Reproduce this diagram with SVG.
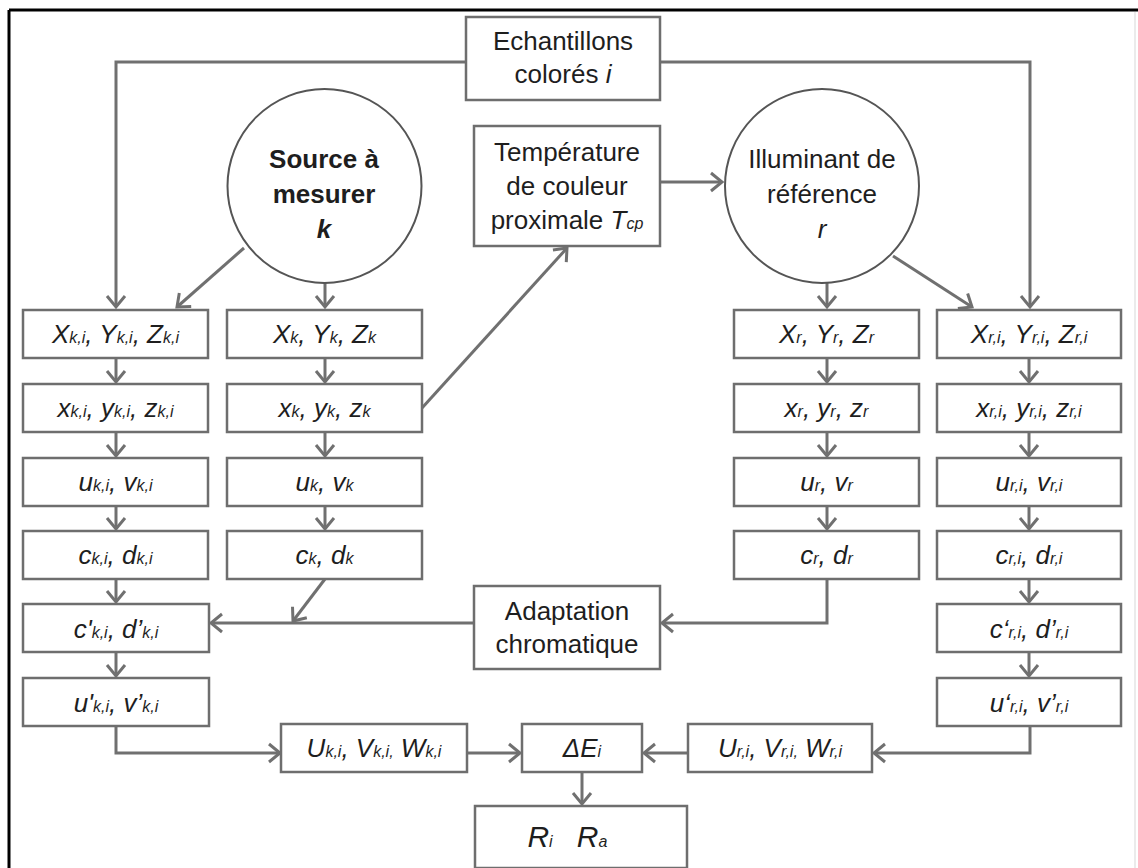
<svg xmlns="http://www.w3.org/2000/svg" width="1138" height="868" viewBox="0 0 1138 868">
<style>
.bx{fill:#fff;stroke:#6e6e6e;stroke-width:2.5}
.cr{fill:#fff;stroke:#555;stroke-width:2}
.ln{fill:none;stroke:#707070;stroke-width:3}
.t{font-family:"Liberation Sans",Arial,sans-serif;font-size:26px;fill:#1e1e1e;text-anchor:middle}
.i{font-style:italic}
.b{font-weight:bold}
.s{font-size:16px}
.big{font-size:30px}
</style>
<defs>
<marker id="ah" markerUnits="userSpaceOnUse" viewBox="-14 -12 16 24" refX="0" refY="0" markerWidth="16" markerHeight="24" orient="auto" overflow="visible">
<path d="M-11,-9 L0,0 L-11,9" fill="none" stroke="#707070" stroke-width="3"/>
</marker>
</defs>
<rect x="0" y="0" width="1138" height="868" fill="#fff"/>
<g id="frame">
<line x1="9" y1="10" x2="1138" y2="10" stroke="#000" stroke-width="3"/>
<line x1="9" y1="10" x2="9" y2="868" stroke="#000" stroke-width="3"/>
<line x1="1135" y1="12" x2="1135" y2="868" stroke="#e4e4e4" stroke-width="1.5"/>
</g>
<g id="connectors">
<polyline class="ln" points="466,62 116,62 116,307" marker-end="url(#ah)"/>
<polyline class="ln" points="660,62 1030,62 1030,307" marker-end="url(#ah)"/>
<line class="ln" x1="244" y1="248" x2="177" y2="307" marker-end="url(#ah)"/>
<line class="ln" x1="325" y1="283" x2="325" y2="307" marker-end="url(#ah)"/>
<line class="ln" x1="422" y1="408" x2="567" y2="248" marker-end="url(#ah)"/>
<line class="ln" x1="660" y1="182" x2="722" y2="182" marker-end="url(#ah)"/>
<line class="ln" x1="827" y1="283" x2="827" y2="307" marker-end="url(#ah)"/>
<line class="ln" x1="893" y1="256" x2="972" y2="307" marker-end="url(#ah)"/>
<line class="ln" x1="116" y1="358" x2="116" y2="382" marker-end="url(#ah)"/>
<line class="ln" x1="116" y1="432" x2="116" y2="456" marker-end="url(#ah)"/>
<line class="ln" x1="116" y1="506" x2="116" y2="529" marker-end="url(#ah)"/>
<line class="ln" x1="116" y1="579" x2="116" y2="602" marker-end="url(#ah)"/>
<line class="ln" x1="116" y1="652" x2="116" y2="676" marker-end="url(#ah)"/>
<line class="ln" x1="325" y1="358" x2="325" y2="382" marker-end="url(#ah)"/>
<line class="ln" x1="325" y1="432" x2="325" y2="456" marker-end="url(#ah)"/>
<line class="ln" x1="325" y1="506" x2="325" y2="529" marker-end="url(#ah)"/>
<line class="ln" x1="827" y1="358" x2="827" y2="382" marker-end="url(#ah)"/>
<line class="ln" x1="827" y1="432" x2="827" y2="456" marker-end="url(#ah)"/>
<line class="ln" x1="827" y1="506" x2="827" y2="529" marker-end="url(#ah)"/>
<line class="ln" x1="1029" y1="358" x2="1029" y2="382" marker-end="url(#ah)"/>
<line class="ln" x1="1029" y1="432" x2="1029" y2="456" marker-end="url(#ah)"/>
<line class="ln" x1="1029" y1="506" x2="1029" y2="529" marker-end="url(#ah)"/>
<line class="ln" x1="1029" y1="579" x2="1029" y2="602" marker-end="url(#ah)"/>
<line class="ln" x1="1029" y1="652" x2="1029" y2="676" marker-end="url(#ah)"/>
<line class="ln" x1="325" y1="579" x2="293" y2="621" marker-end="url(#ah)"/>
<line class="ln" x1="474" y1="623" x2="211" y2="623" marker-end="url(#ah)"/>
<polyline class="ln" points="827,579 827,623 662,623" marker-end="url(#ah)"/>
<polyline class="ln" points="116,726 116,753 280,753" marker-end="url(#ah)"/>
<line class="ln" x1="467" y1="753" x2="520" y2="753" marker-end="url(#ah)"/>
<line class="ln" x1="688" y1="753" x2="644" y2="753" marker-end="url(#ah)"/>
<polyline class="ln" points="1030,726 1030,753 874,753" marker-end="url(#ah)"/>
<line class="ln" x1="582" y1="772" x2="582" y2="804" marker-end="url(#ah)"/>
</g>
<g id="echantillons">
<rect class="bx" x="466" y="17" width="194" height="83"/>
<text class="t" x="563" y="50">Echantillons</text>
<text class="t" x="563" y="83">colorés <tspan class="i">i</tspan></text>
</g>
<g id="source">
<circle class="cr" cx="324.5" cy="186" r="97"/>
<text class="t b" x="324" y="168" font-size="25">Source à</text>
<text class="t b" x="324" y="203" font-size="25">mesurer</text>
<text class="t b i" x="324" y="238" font-size="25">k</text>
</g>
<g id="temperature">
<rect class="bx" x="474" y="126" width="186" height="120"/>
<text class="t" x="567" y="161">Température</text>
<text class="t" x="567" y="195">de couleur</text>
<text class="t" x="567" y="229">proximale <tspan class="i">T</tspan><tspan class="i s">cp</tspan></text>
</g>
<g id="illuminant">
<circle class="cr" cx="822" cy="186" r="97"/>
<text class="t" x="822" y="168">Illuminant de</text>
<text class="t" x="822" y="203">référence</text>
<text class="t i" x="822" y="238">r</text>
</g>
<g id="Xki"><rect class="bx" x="23" y="310" width="185" height="48"/>
<text class="t i" x="115.5" y="343">X<tspan class="s">k,i</tspan>, Y<tspan class="s">k,i</tspan>, Z<tspan class="s">k,i</tspan></text></g>
<g id="xki"><rect class="bx" x="23" y="384" width="185" height="48"/>
<text class="t i" x="115.5" y="417">x<tspan class="s">k,i</tspan>, y<tspan class="s">k,i</tspan>, z<tspan class="s">k,i</tspan></text></g>
<g id="uki"><rect class="bx" x="23" y="458" width="185" height="48"/>
<text class="t i" x="115.5" y="491">u<tspan class="s">k,i</tspan>, v<tspan class="s">k,i</tspan></text></g>
<g id="cki"><rect class="bx" x="23" y="531" width="185" height="48"/>
<text class="t i" x="115.5" y="564">c<tspan class="s">k,i</tspan>, d<tspan class="s">k,i</tspan></text></g>
<g id="cpki"><rect class="bx" x="23" y="604" width="186" height="48"/>
<text class="t i" x="116" y="638">c'<tspan class="s">k,i</tspan>, d’<tspan class="s">k,i</tspan></text></g>
<g id="upki"><rect class="bx" x="23" y="678" width="186" height="48"/>
<text class="t i" x="116" y="712">u'<tspan class="s">k,i</tspan>, v’<tspan class="s">k,i</tspan></text></g>
<g id="Xk"><rect class="bx" x="227" y="310" width="195" height="48"/>
<text class="t i" x="324.5" y="343">X<tspan class="s">k</tspan>, Y<tspan class="s">k</tspan>, Z<tspan class="s">k</tspan></text></g>
<g id="xk"><rect class="bx" x="227" y="384" width="195" height="48"/>
<text class="t i" x="324.5" y="417">x<tspan class="s">k</tspan>, y<tspan class="s">k</tspan>, z<tspan class="s">k</tspan></text></g>
<g id="uk"><rect class="bx" x="227" y="458" width="195" height="48"/>
<text class="t i" x="324.5" y="491">u<tspan class="s">k</tspan>, v<tspan class="s">k</tspan></text></g>
<g id="ck"><rect class="bx" x="227" y="531" width="195" height="48"/>
<text class="t i" x="324.5" y="564">c<tspan class="s">k</tspan>, d<tspan class="s">k</tspan></text></g>
<g id="Xr"><rect class="bx" x="734" y="310" width="185" height="48"/>
<text class="t i" x="826.5" y="343">X<tspan class="s">r</tspan>, Y<tspan class="s">r</tspan>, Z<tspan class="s">r</tspan></text></g>
<g id="xr"><rect class="bx" x="734" y="384" width="185" height="48"/>
<text class="t i" x="826.5" y="417">x<tspan class="s">r</tspan>, y<tspan class="s">r</tspan>, z<tspan class="s">r</tspan></text></g>
<g id="ur"><rect class="bx" x="734" y="458" width="185" height="48"/>
<text class="t i" x="826.5" y="491">u<tspan class="s">r</tspan>, v<tspan class="s">r</tspan></text></g>
<g id="cr"><rect class="bx" x="734" y="531" width="185" height="48"/>
<text class="t i" x="826.5" y="564">c<tspan class="s">r</tspan>, d<tspan class="s">r</tspan></text></g>
<g id="Xri"><rect class="bx" x="937" y="310" width="184" height="48"/>
<text class="t i" x="1029" y="343">X<tspan class="s">r,i</tspan>, Y<tspan class="s">r,i</tspan>, Z<tspan class="s">r,i</tspan></text></g>
<g id="xri"><rect class="bx" x="937" y="384" width="184" height="48"/>
<text class="t i" x="1029" y="417">x<tspan class="s">r,i</tspan>, y<tspan class="s">r,i</tspan>, z<tspan class="s">r,i</tspan></text></g>
<g id="uri"><rect class="bx" x="937" y="458" width="184" height="48"/>
<text class="t i" x="1029" y="491">u<tspan class="s">r,i</tspan>, v<tspan class="s">r,i</tspan></text></g>
<g id="cri"><rect class="bx" x="937" y="531" width="184" height="48"/>
<text class="t i" x="1029" y="564">c<tspan class="s">r,i</tspan>, d<tspan class="s">r,i</tspan></text></g>
<g id="cpri"><rect class="bx" x="937" y="604" width="184" height="48"/>
<text class="t i" x="1029" y="638">c‘<tspan class="s">r,i</tspan>, d’<tspan class="s">r,i</tspan></text></g>
<g id="upri"><rect class="bx" x="937" y="678" width="184" height="48"/>
<text class="t i" x="1029" y="712">u‘<tspan class="s">r,i</tspan>, v’<tspan class="s">r,i</tspan></text></g>
<g id="adaptation">
<rect class="bx" x="474" y="586" width="186" height="83"/>
<text class="t" x="567" y="620">Adaptation</text>
<text class="t" x="567" y="653">chromatique</text>
</g>
<g id="Uki"><rect class="bx" x="281" y="724" width="186" height="48"/>
<text class="t i" x="374" y="757">U<tspan class="s">k,i</tspan>, V<tspan class="s">k,i,</tspan> W<tspan class="s">k,i</tspan></text></g>
<g id="Uri"><rect class="bx" x="688" y="724" width="184" height="48"/>
<text class="t i" x="780" y="757">U<tspan class="s">r,i</tspan>, V<tspan class="s">r,i,</tspan> W<tspan class="s">r,i</tspan></text></g>
<g id="deltaE"><rect class="bx" x="522" y="724" width="120" height="48"/>
<text class="t i" x="582" y="757">ΔE<tspan class="s">i</tspan></text></g>
<g id="R"><rect class="bx" x="475" y="806" width="212" height="62"/>
<text class="t i big" x="540" y="847" text-anchor="start">R<tspan class="s" font-size="19">i</tspan></text>
<text class="t i big" x="592" y="847" text-anchor="start">R<tspan class="s" font-size="19">a</tspan></text>
</g>
</svg>
